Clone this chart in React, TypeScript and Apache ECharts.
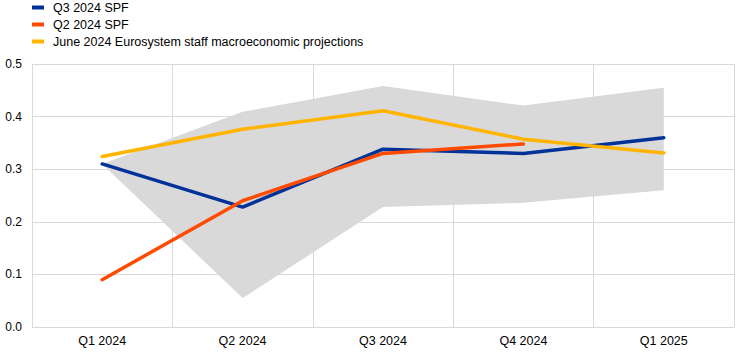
import React, { useEffect, useRef } from "react";
import * as echarts from "echarts";

const categories = ["Q1 2024", "Q2 2024", "Q3 2024", "Q4 2024", "Q1 2025"];
const q3Spf = [0.31, 0.228, 0.338, 0.33, 0.36];
const q2Spf = [0.09, 0.24, 0.33, 0.348, null];
const juneProj = [0.324, 0.376, 0.411, 0.357, 0.331];
const bandLower = [0.31, 0.055, 0.228, 0.236, 0.26];
const bandUpper = [0.31, 0.409, 0.458, 0.421, 0.455];
const yTicks = [0, 0.1, 0.2, 0.3, 0.4, 0.5];

export default function App() {
  const ref = useRef<HTMLDivElement>(null);
  useEffect(() => {
    if (!ref.current) return;
    const chart = echarts.init(ref.current, null, { renderer: "svg" });
    const font = "Arial, 'Liberation Sans', sans-serif";
    const bandDiff = bandUpper.map((u, i) => +(u - bandLower[i]).toFixed(4));
    chart.setOption({
      animation: false,
      textStyle: { fontFamily: font },
      legend: {
        orient: "vertical",
        left: 32,
        top: 1,
        padding: 0,
        itemWidth: 12,
        itemHeight: 4,
        itemGap: 4,
        icon: "rect",
        data: ["Q3 2024 SPF", "Q2 2024 SPF", "June 2024 Eurosystem staff macroeconomic projections"],
        textStyle: { fontFamily: font, fontSize: 12.5, color: "#000", padding: [0, 0, 0, 4] },
      },
      grid: { left: 32, right: 11, top: 64, bottom: 27, containLabel: false },
      xAxis: {
        type: "category",
        data: categories,
        boundaryGap: true,
        axisLine: { show: true, lineStyle: { color: "#d9d9d9", width: 1 } },
        axisTick: { show: false },
        axisLabel: { color: "#000", fontSize: 12.5, fontFamily: font, margin: 7 },
        splitLine: { show: true, lineStyle: { color: "#d9d9d9", width: 1 } },
      },
      yAxis: {
        type: "value",
        min: yTicks[0],
        max: yTicks[yTicks.length - 1],
        interval: 0.1,
        axisLine: { show: true, lineStyle: { color: "#d9d9d9", width: 1 } },
        axisTick: { show: false },
        axisLabel: {
          color: "#000",
          fontSize: 12,
          fontFamily: font,
          margin: 10,
          formatter: (v: number) => v.toFixed(1),
        },
        splitLine: { show: true, lineStyle: { color: "#d9d9d9", width: 1 } },
      },
      series: [
        {
          name: "bandLower",
          type: "line",
          data: bandLower,
          stack: "band",
          symbol: "none",
          lineStyle: { opacity: 0 },
          areaStyle: { opacity: 0 },
          silent: true,
        },
        {
          name: "bandRange",
          type: "line",
          data: bandDiff,
          stack: "band",
          symbol: "none",
          lineStyle: { opacity: 0 },
          areaStyle: { color: "#d9d9d9", opacity: 1 },
          silent: true,
        },
        {
          name: "Q3 2024 SPF",
          type: "line",
          data: q3Spf,
          symbol: "none",
          color: "#003299",
          lineStyle: { width: 3.5, color: "#003299", cap: "round" },
        },
        {
          name: "Q2 2024 SPF",
          type: "line",
          data: q2Spf,
          symbol: "none",
          color: "#ff4b00",
          lineStyle: { width: 3.5, color: "#ff4b00", cap: "round" },
        },
        {
          name: "June 2024 Eurosystem staff macroeconomic projections",
          type: "line",
          data: juneProj,
          symbol: "none",
          color: "#ffb400",
          lineStyle: { width: 3.5, color: "#ffb400", cap: "round" },
        },
      ],
    });
    return () => chart.dispose();
  }, []);
  return (
    <div
      ref={ref}
      style={{ position: "fixed", left: 0, top: 0, width: 745, height: 354, background: "#fff" }}
    />
  );
}
